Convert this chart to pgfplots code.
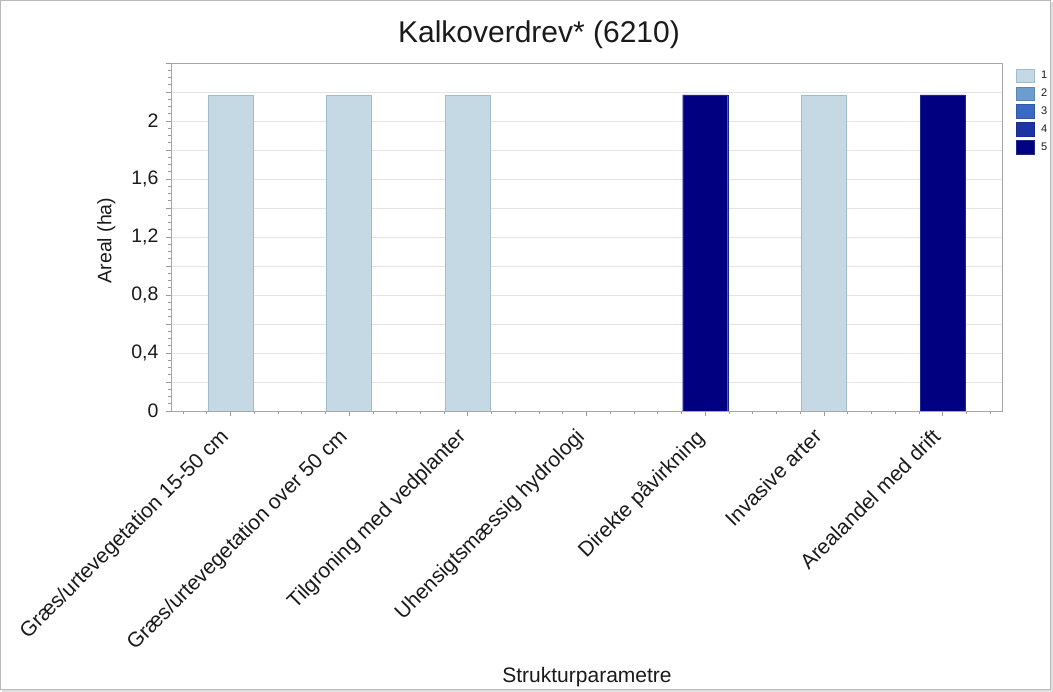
\documentclass[border=0pt]{standalone}
\usepackage{pgfplots}
\pgfplotsset{compat=1.18}
\usepackage{fontspec}
\setmainfont{Liberation Sans}
\definecolor{c1}{HTML}{C5D9E5}
\definecolor{c1d}{HTML}{A3BCCB}
\definecolor{c2}{HTML}{6D9DD0}
\definecolor{c3}{HTML}{3A68C5}
\definecolor{c4}{HTML}{1C34A3}
\definecolor{c5}{HTML}{000080}
\definecolor{c5d}{HTML}{1A2A8A}
\definecolor{txt}{HTML}{1A1A1A}
\begin{document}
\begin{tikzpicture}[x=1pt,y=1pt]
\useasboundingbox (0,0) rectangle (1053,692);
\draw[gray!55, line width=1pt] (0.5,2.5) rectangle (1050.5,691.5);
\draw[gray!25, line width=2pt] (2,1) -- (1052,1) -- (1052,690);
\node[font=\fontsize{30}{35}\selectfont, text=txt] at (539,657) {Kalkoverdrev* (6210)};
\node[font=\fontsize{21}{24}\selectfont, text=txt] at (587,15) {Strukturparametre};
\begin{axis}[
  at={(171pt,281pt)}, anchor=south west,
  scale only axis, width=831pt, height=348pt,
  xmin=0.5, xmax=7.5, ymin=0, ymax=2.4,
  axis line style={draw=gray!70},
  tick align=outside, tick pos=left,
  major tick length=5pt, minor tick length=3pt,
  tick style={draw=gray!80, line width=0.6pt},
  xtick={1,...,7},
  minor xtick={0.6,0.8,1.2,1.4,1.6,1.8,2.2,2.4,2.6,2.8,3.2,3.4,3.6,3.8,4.2,4.4,4.6,4.8,5.2,5.4,5.6,5.8,6.2,6.4,6.6,6.8,7.2,7.4},
  xticklabels={Græs/urtevegetation 15-50 cm, Græs/urtevegetation over 50 cm, Tilgroning med vedplanter, Uhensigtsmæssig hydrologi, Direkte påvirkning, Invasive arter, Arealandel med drift},
  xticklabel style={rotate=45, anchor=north east, font=\fontsize{21}{24}\selectfont, text=txt, inner sep=1pt, xshift=-15pt, yshift=1.5pt},
  ytick={0,0.2,...,2.41},
  yticklabels={0,,{0,4},,{0,8},,{1,2},,{1,6},,2,,},
  minor y tick num=3,
  yticklabel style={font=\fontsize{19.5}{22}\selectfont, text=txt, xshift=-4pt},
  ymajorgrids, major grid style={draw=gray!22, line width=0.8pt},
  ylabel={Areal (ha)},
  ylabel style={font=\fontsize{19.5}{22}\selectfont, text=txt, at={(axis description cs:0,0.49)}, anchor=south, yshift=52pt},
  legend style={at={(1.014,0.99)}, anchor=north west, draw=none, fill=none,
    font=\fontsize{11}{13}\selectfont, text=txt, row sep=4pt, inner sep=2pt,
    /tikz/every odd column/.append style={column sep=5pt}},
  legend cell align=left,
  legend image code/.code={\draw[#1] (0pt,-6.5pt) rectangle (18pt,7pt);},
]
\addplot[ybar, bar width=45pt, bar shift=0pt, fill=c1, draw=c1d] coordinates {(1,2.18) (2,2.18) (3,2.18) (6,2.18)};
\addlegendentry{1}
\addlegendimage{fill=c2, draw=c2!85!black}
\addlegendentry{2}
\addlegendimage{fill=c3, draw=c3!85!black}
\addlegendentry{3}
\addlegendimage{fill=c4, draw=c4!85!black}
\addlegendentry{4}
\addplot[ybar, bar width=45pt, bar shift=0pt, fill=c5, draw=c5d] coordinates {(5,2.18) (7,2.18)};
\addlegendentry{5}
\end{axis}
\end{tikzpicture}
\end{document}
